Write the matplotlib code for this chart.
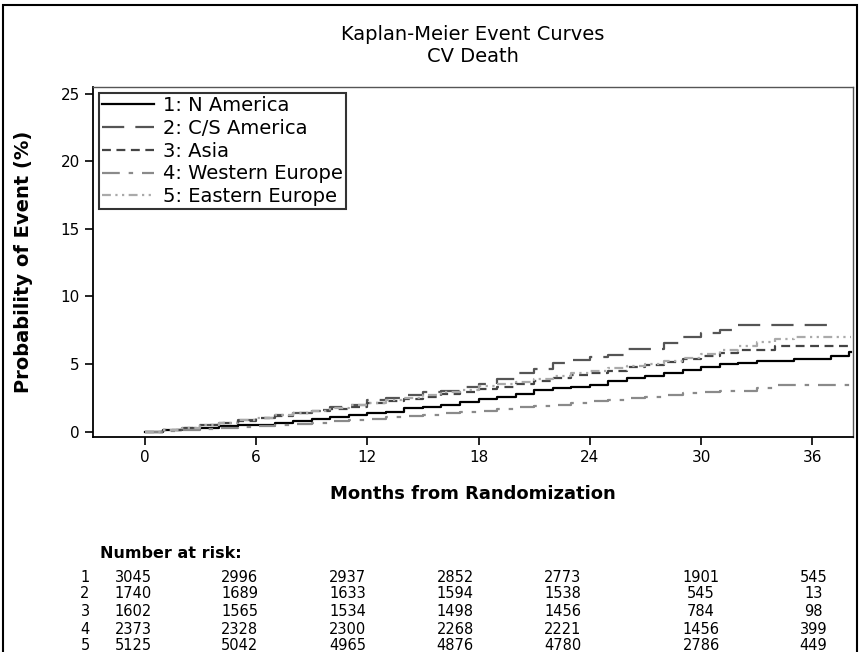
import matplotlib
matplotlib.use('Agg')
import matplotlib.pyplot as plt
from matplotlib.patches import Rectangle
import numpy as np

# months for each step value
months = np.arange(0, 39)

n_america = [0, 0.1, 0.2, 0.3, 0.38, 0.45, 0.52, 0.65, 0.78, 0.9, 1.05, 1.2, 1.4,
             1.45, 1.75, 1.85, 2.0, 2.2, 2.4, 2.55, 2.8, 3.05, 3.2, 3.3, 3.45, 3.75,
             3.95, 4.1, 4.3, 4.55, 4.8, 5.0, 5.1, 5.25, 5.25, 5.37, 5.37, 5.6, 5.9]
cs_america = [0, 0.15, 0.3, 0.45, 0.65, 0.85, 1.0, 1.2, 1.4, 1.6, 1.8, 2.0, 2.3,
              2.5, 2.7, 2.9, 3.0, 3.3, 3.55, 3.9, 4.3, 4.6, 5.1, 5.3, 5.5, 5.7,
              6.1, 6.1, 6.55, 7.0, 7.3, 7.55, 7.9, 7.9, 7.9, 7.9, 7.9, 7.9]
asia = [0, 0.15, 0.3, 0.5, 0.65, 0.8, 1.0, 1.15, 1.35, 1.5, 1.7, 1.85, 2.1,
        2.25, 2.4, 2.55, 2.75, 2.95, 3.15, 3.3, 3.5, 3.75, 3.95, 4.15, 4.35, 4.5,
        4.75, 4.95, 5.15, 5.35, 5.6, 5.85, 6.0, 6.05, 6.35, 6.35, 6.35, 6.35, 6.35]
w_europe = [0, 0.05, 0.12, 0.2, 0.27, 0.33, 0.4, 0.5, 0.58, 0.67, 0.75, 0.85, 0.95,
            1.05, 1.15, 1.25, 1.35, 1.45, 1.55, 1.65, 1.8, 1.9, 2.0, 2.1, 2.25, 2.35,
            2.45, 2.55, 2.7, 2.85, 2.95, 3.0, 3.0, 3.2, 3.45, 3.45, 3.45, 3.45, 3.45]
e_europe = [0, 0.15, 0.3, 0.5, 0.65, 0.85, 1.0, 1.2, 1.4, 1.55, 1.75, 1.95, 2.15,
            2.3, 2.5, 2.7, 2.9, 3.1, 3.35, 3.5, 3.7, 3.9, 4.1, 4.3, 4.5, 4.7,
            4.85, 5.0, 5.2, 5.45, 5.75, 6.0, 6.3, 6.6, 6.85, 7.0, 7.0, 7.0, 7.0]

labels = ['1: N America', '2: C/S America', '3: Asia', '4: Western Europe', '5: Eastern Europe']
colors = ['black', '#555555', '#444444', '#8a8a8a', '#aaaaaa']
dashes = [None, (10, 5), (4, 2.5), (8, 4, 2, 4), (4, 2, 1, 2, 1, 2)]

# number at risk table
risk_rows = ['1', '2', '3', '4', '5']
risk = [[3045, 2996, 2937, 2852, 2773, 1901, 545],
        [1740, 1689, 1633, 1594, 1538, 545, 13],
        [1602, 1565, 1534, 1498, 1456, 784, 98],
        [2373, 2328, 2300, 2268, 2221, 1456, 399],
        [5125, 5042, 4965, 4876, 4780, 2786, 449]]
risk_x = [-0.62, 5.12, 10.94, 16.74, 22.53, 30.0, 36.07]

fig = plt.figure(figsize=(8.6, 6.52), dpi=100)
ax = fig.add_axes([0.108, 0.3298, 0.884, 0.5368])

series = [n_america, cs_america, asia, w_europe, e_europe]
for vals, lab, col, d in zip(series, labels, colors, dashes):
    x = np.append(months[:len(vals)], 38.1 if len(vals) == 39 else 37.2)
    y = np.append(vals, vals[-1])
    line, = ax.plot(x, y, drawstyle='steps-post', color=col, lw=1.6, label=lab)
    if d is not None:
        line.set_dashes(d)

ax.set_xlim(-2.8, 38.2)
ax.set_ylim(-0.4, 25.5)
ax.set_xticks(range(0, 37, 6))
ax.set_yticks(range(0, 26, 5))
ax.tick_params(length=6, width=1.2, labelsize=11, direction='out')
for s in ['left', 'bottom']:
    ax.spines[s].set_linewidth(1.3)
for s in ['top', 'right']:
    ax.spines[s].set_color('#555555')
    ax.spines[s].set_linewidth(1.0)

ax.set_ylabel('Probability of Event (%)', fontsize=14, fontweight='bold', labelpad=20)
ax.set_xlabel('Months from Randomization', fontsize=13, fontweight='bold', labelpad=14)
ax.set_title('Kaplan-Meier Event Curves\nCV Death', fontsize=14, pad=18, linespacing=1.2)

leg = ax.legend(loc='upper left', fontsize=14, handlelength=2.7, labelspacing=0.2,
                borderpad=0.15, handletextpad=0.45, fancybox=False, borderaxespad=0.3)
leg.get_frame().set_edgecolor('black')
leg.get_frame().set_linewidth(1.5)

# number at risk
fig.text(100 / 860, 1 - 553 / 652, 'Number at risk:', fontsize=11.5, fontweight='bold',
         va='center', ha='left')
row_y = [577, 594, 611.5, 629, 646]
for r, (rl, vals) in enumerate(zip(risk_rows, risk)):
    yy = 1 - row_y[r] / 652
    fig.text(85 / 860, yy, rl, fontsize=10.5, ha='center', va='center')
    for xv, v in zip(risk_x, vals):
        xf = fig.transFigure.inverted().transform(ax.transData.transform((xv, 0)))[0]
        fig.text(xf, yy, str(v), fontsize=10.5, ha='center', va='center')

fig.patches.append(Rectangle((0.003, -0.02), 0.994, 1.012, transform=fig.transFigure,
                             fill=False, edgecolor='black', lw=1.5))

fig.savefig('out.png', dpi=100)
